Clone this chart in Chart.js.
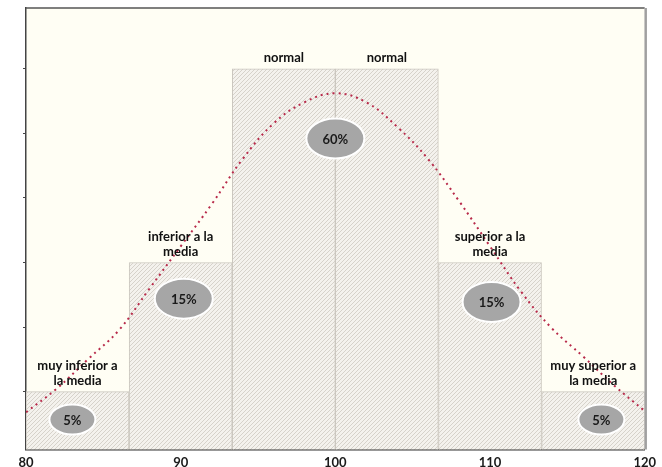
<!DOCTYPE html>
<html>
<head>
<meta charset="utf-8">
<script src="https://cdn.jsdelivr.net/npm/chart.js@4.4.1/dist/chart.umd.min.js"></script>
<style>
html,body{margin:0;padding:0;background:#fff;}
</style>
</head>
<body>
<canvas id="grafico" width="662" height="467"></canvas>
<script>
// barras (centro de cada intervalo) y su altura
var centros = [83.33, 90, 96.67, 103.33, 110, 116.67];
var alturas = [1, 3, 6, 6, 3, 1];
var categorias = [['muy inferior a', 'la media'], ['inferior a la', 'media'], ['normal'], ['normal'], ['superior a la', 'media'], ['muy superior a', 'la media']];

// curva normal
var curvaX = [80, 82, 84, 86, 88, 90, 92, 94, 96, 98, 100, 102, 104, 106, 108, 110, 112, 114, 116, 118, 120];
var curvaY = [0.68, 1.05, 1.5, 1.95, 2.6, 3.25, 3.9, 4.6, 5.15, 5.48, 5.62, 5.48, 5.1, 4.6, 3.95, 3.25, 2.55, 1.98, 1.55, 1.1, 0.7];

// porcentajes dentro de los ovalos
var porcentajes = ['5%', '15%', '60%', '15%', '5%'];
var porcX = [83.0, 90.2, 100, 110.1, 117.2];
var porcY = [0.57, 2.44, 4.92, 2.39, 0.57];

var ticksX = [80, 90, 100, 110, 120];
var ticksY = [1, 2, 3, 4, 5, 6];

var fuente = 'Lato, "Open Sans", sans-serif';

function trama(){
	var c = document.createElement('canvas');
	c.width = 4; c.height = 4;
	var g = c.getContext('2d');
	g.fillStyle = '#f4f2ed';
	g.fillRect(0, 0, 4, 4);
	g.strokeStyle = '#d6d2ca';
	g.lineWidth = 1;
	g.beginPath();
	g.moveTo(0, 4); g.lineTo(4, 0);
	g.moveTo(-1, 1); g.lineTo(1, -1);
	g.moveTo(3, 5); g.lineTo(5, 3);
	g.stroke();
	return g.createPattern(c, 'repeat');
}

var fondo = {
	id: 'fondo',
	beforeDraw: function(chart){
		var a = chart.chartArea, ctx = chart.ctx;
		ctx.save();
		ctx.fillStyle = '#fffef4';
		ctx.fillRect(a.left, a.top, a.right - a.left, a.bottom - a.top);
		ctx.restore();
	}
};

var marco = {
	id: 'marco',
	afterDraw: function(chart){
		var a = chart.chartArea, ctx = chart.ctx;
		ctx.save();
		ctx.strokeStyle = '#555';
		ctx.lineWidth = 1.5;
		ctx.beginPath();
		ctx.moveTo(a.left, a.top);
		ctx.lineTo(a.right, a.top);
		ctx.stroke();
		ctx.strokeStyle = '#a0a0a0';
		ctx.lineWidth = 2.5;
		ctx.beginPath();
		ctx.moveTo(a.right + 1, a.top);
		ctx.lineTo(a.right + 1, a.bottom);
		ctx.stroke();
		ctx.restore();
	}
};

var rotulos = {
	id: 'rotulos',
	afterDatasetsDraw: function(chart){
		var ctx = chart.ctx;
		var barras = chart.getDatasetMeta(1).data;
		ctx.save();
		ctx.textAlign = 'center';
		ctx.textBaseline = 'middle';
		ctx.fillStyle = '#111';
		ctx.font = 'bold 13px ' + fuente;
		barras.forEach(function(b, i){
			var lineas = categorias[i];
			for (var k = 0; k < lineas.length; k++) {
				var y = b.y - 11 - (lineas.length - 1 - k) * 15;
				ctx.fillText(lineas[k], b.x, y);
			}
		});
		// ovalos
		var sx = chart.scales.x, sy = chart.scales.y;
		porcentajes.forEach(function(t, i){
			var cx = sx.getPixelForValue(porcX[i]);
			var cy = sy.getPixelForValue(porcY[i]);
			var chico = t == '5%';
			ctx.beginPath();
			ctx.ellipse(cx, cy, chico ? 23 : 29, chico ? 15 : 20, 0, 0, Math.PI * 2);
			ctx.fillStyle = '#a6a6a6';
			ctx.fill();
			ctx.strokeStyle = '#fff';
			ctx.lineWidth = 2;
			ctx.stroke();
			ctx.fillStyle = '#1a1a1a';
			ctx.font = 'bold 13px ' + fuente;
			ctx.fillText(t, cx, cy + 1);
		});
		ctx.restore();
	}
};

var puntosCurva = curvaX.map(function(x, i){ return {x: x, y: curvaY[i]}; });
var puntosBarras = centros.map(function(x, i){ return {x: x, y: alturas[i]}; });

new Chart(document.getElementById('grafico').getContext('2d'), {
	type: 'bar',
	data: {
		datasets: [{
			type: 'line',
			data: puntosCurva,
			borderColor: '#b82a4a',
			borderWidth: 2,
			borderDash: [2, 4],
			pointRadius: 0,
			tension: 0.4,
			fill: false,
			order: 0
		}, {
			type: 'bar',
			data: puntosBarras,
			backgroundColor: trama(),
			borderColor: '#cbc7bf',
			borderWidth: 1,
			barPercentage: 1,
			categoryPercentage: 1,
			order: 1
		}]
	},
	options: {
		responsive: false,
		animation: false,
		layout: { padding: { left: 23, right: 9, top: 8, bottom: -10 } },
		plugins: {
			legend: { display: false },
			tooltip: { enabled: false }
		},
		scales: {
			x: {
				type: 'linear',
				offset: false,
				min: 80,
				max: 120,
				afterBuildTicks: function(s){ s.ticks = ticksX.map(function(v){ return {value: v}; }); },
				grid: { display: false, drawTicks: false },
				border: { display: true, color: '#333', width: 1.5 },
				ticks: { color: '#1a1a1a', padding: 6, font: { family: fuente, size: 13, weight: 'bold' } }
			},
			y: {
				min: 0.106,
				max: 6.94,
				afterBuildTicks: function(s){ s.ticks = ticksY.map(function(v){ return {value: v}; }); },
				grid: { display: true, drawOnChartArea: false, drawTicks: true, tickLength: 3, color: '#444' },
				border: { display: true, color: '#444', width: 1.5 },
				ticks: { display: false }
			}
		}
	},
	plugins: [fondo, marco, rotulos]
});
</script>
</body>
</html>
